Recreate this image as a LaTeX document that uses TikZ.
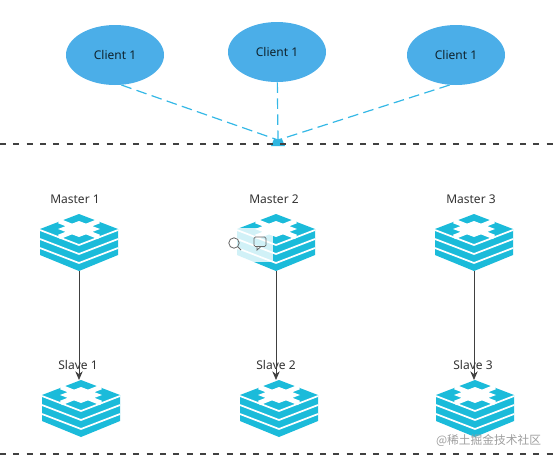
\documentclass[tikz,border=0pt]{standalone}
\usepackage{fontspec}
\setmainfont{Noto Sans}
\newfontfamily\cjk{Noto Sans CJK SC}
\usetikzlibrary{arrows.meta, positioning, shapes.geometric}
\definecolor{clientblue}{HTML}{4BAEE8}
\definecolor{redisteal}{HTML}{1BBBDA}
\definecolor{linkblue}{HTML}{35B8E6}
\definecolor{labelgrey}{HTML}{333333}
\tikzset{
    client/.style={ellipse, fill=clientblue, minimum width=73.5pt, minimum height=45pt, inner sep=0pt, text=black!80!clientblue, font=\small},
    caption/.style={text=labelgrey, font=\small, inner sep=0pt},
    divider/.style={densely dashed, line width=1pt, black!75, dash pattern=on 4.5pt off 5.5pt},
    link/.style={dashed, linkblue, line width=0.9pt, dash pattern=on 8pt off 4pt},
    repl/.style={-{Stealth[length=6.5pt,width=5.5pt]}, black!75, line width=0.55pt},
    redisicon/.pic={
        % --- stack of slabs ---
        \fill[redisteal] (0,-15) -- (39,0) -- (39,26) -- (0,42) -- (-39,26) -- (-39,0) -- cycle;
        \draw[white, line width=1.3pt] (-39,1) -- (0,16) -- (39,1);
        \draw[white, line width=1.3pt] (-39,10) -- (0,25) -- (39,10);
        \draw[white, line width=1.3pt] (-39,19) -- (0,34) -- (39,19);
        % --- opening in the top face ---
        \fill[white] (0,-8) -- (21,0) -- (0,8) -- (-21,0) -- cycle;
        \draw[white, line width=3.6pt] (-20,-8) -- (20,8);
        \draw[white, line width=3.6pt] (20,-8) -- (-20,8);
        \coordinate (-top) at (0,-15);
        \coordinate (-bot) at (0,42);
    }
}
\begin{document}
\begin{tikzpicture}[x=0.75pt, y=-0.75pt]
    \useasboundingbox (0,0) rectangle (554,462);

    % --- Clients ---
    \node[client] (client_a) at (115,55) {Client 1};
    \node[client] (client_b) at (277,52) {Client 1};
    \node[client] (client_c) at (456,55) {Client 1};

    % --- Hub on the upper divider ---
    \coordinate (hub) at (278,140);
    \fill[redisteal!60!clientblue] (271,146) -- (274,139) -- (282,139) -- (285,146) -- cycle;
    \draw[link] (client_a.-78) -- (hub);
    \draw[link] (client_b) -- (hub);
    \draw[link] (client_c.-102) -- (hub);

    % --- Dividers ---
    \coordinate (upper_l) at (0,144);
    \coordinate (upper_r) at (554,144);
    \coordinate (lower_l) at (0,454);
    \coordinate (lower_r) at (554,454);
    \draw[divider] (upper_l) -- (upper_r);
    \draw[divider] (lower_l) -- (lower_r);

    % --- Masters ---
    \pic (master_a) at (79,229) {redisicon};
    \pic (master_b) at (276,229) {redisicon};
    \pic (master_c) at (474,229) {redisicon};
    \node[caption] (label_ma) at (75,199) {Master 1};
    \node[caption] (label_mb) at (274,199) {Master 2};
    \node[caption] (label_mc) at (471,199) {Master 3};

    % --- Slaves ---
    \pic (slave_a) at (81,395) {redisicon};
    \pic (slave_b) at (279,395) {redisicon};
    \pic (slave_c) at (475,395) {redisicon};
    \node[caption] (label_sa) at (78,365) {Slave 1};
    \node[caption] (label_sb) at (276,365) {Slave 2};
    \node[caption] (label_sc) at (473,365) {Slave 3};

    % --- Replication arrows ---
    \draw[repl] (master_a-bot) -- (master_a-bot |- slave_a-top);
    \draw[repl] (master_b-bot) -- (master_b-bot |- slave_b-top);
    \draw[repl] (master_c-bot) -- (master_c-bot |- slave_c-top);

    % --- Viewer toolbar over Master 2 ---
    \fill[white, opacity=0.8] (218,228) rectangle (273,262);
    \draw[black!60, line width=0.6pt] (234,243) circle (5.2);
    \draw[black!60, line width=0.6pt] (238,247) -- (241,250);
    \draw[black!60, line width=0.6pt, rounded corners=1pt] (254,237) rectangle (266,246.5);
    \draw[black!60, line width=0.6pt] (257,246.5) -- (257,250) -- (261,246.5);

    % --- Watermark ---
    \node[text=black!38, font=\fontsize{8.8}{10}\selectfont\cjk, inner sep=0pt] (mark) at (488.5,441) {@稀土掘金技术社区};
\end{tikzpicture}
\end{document}
